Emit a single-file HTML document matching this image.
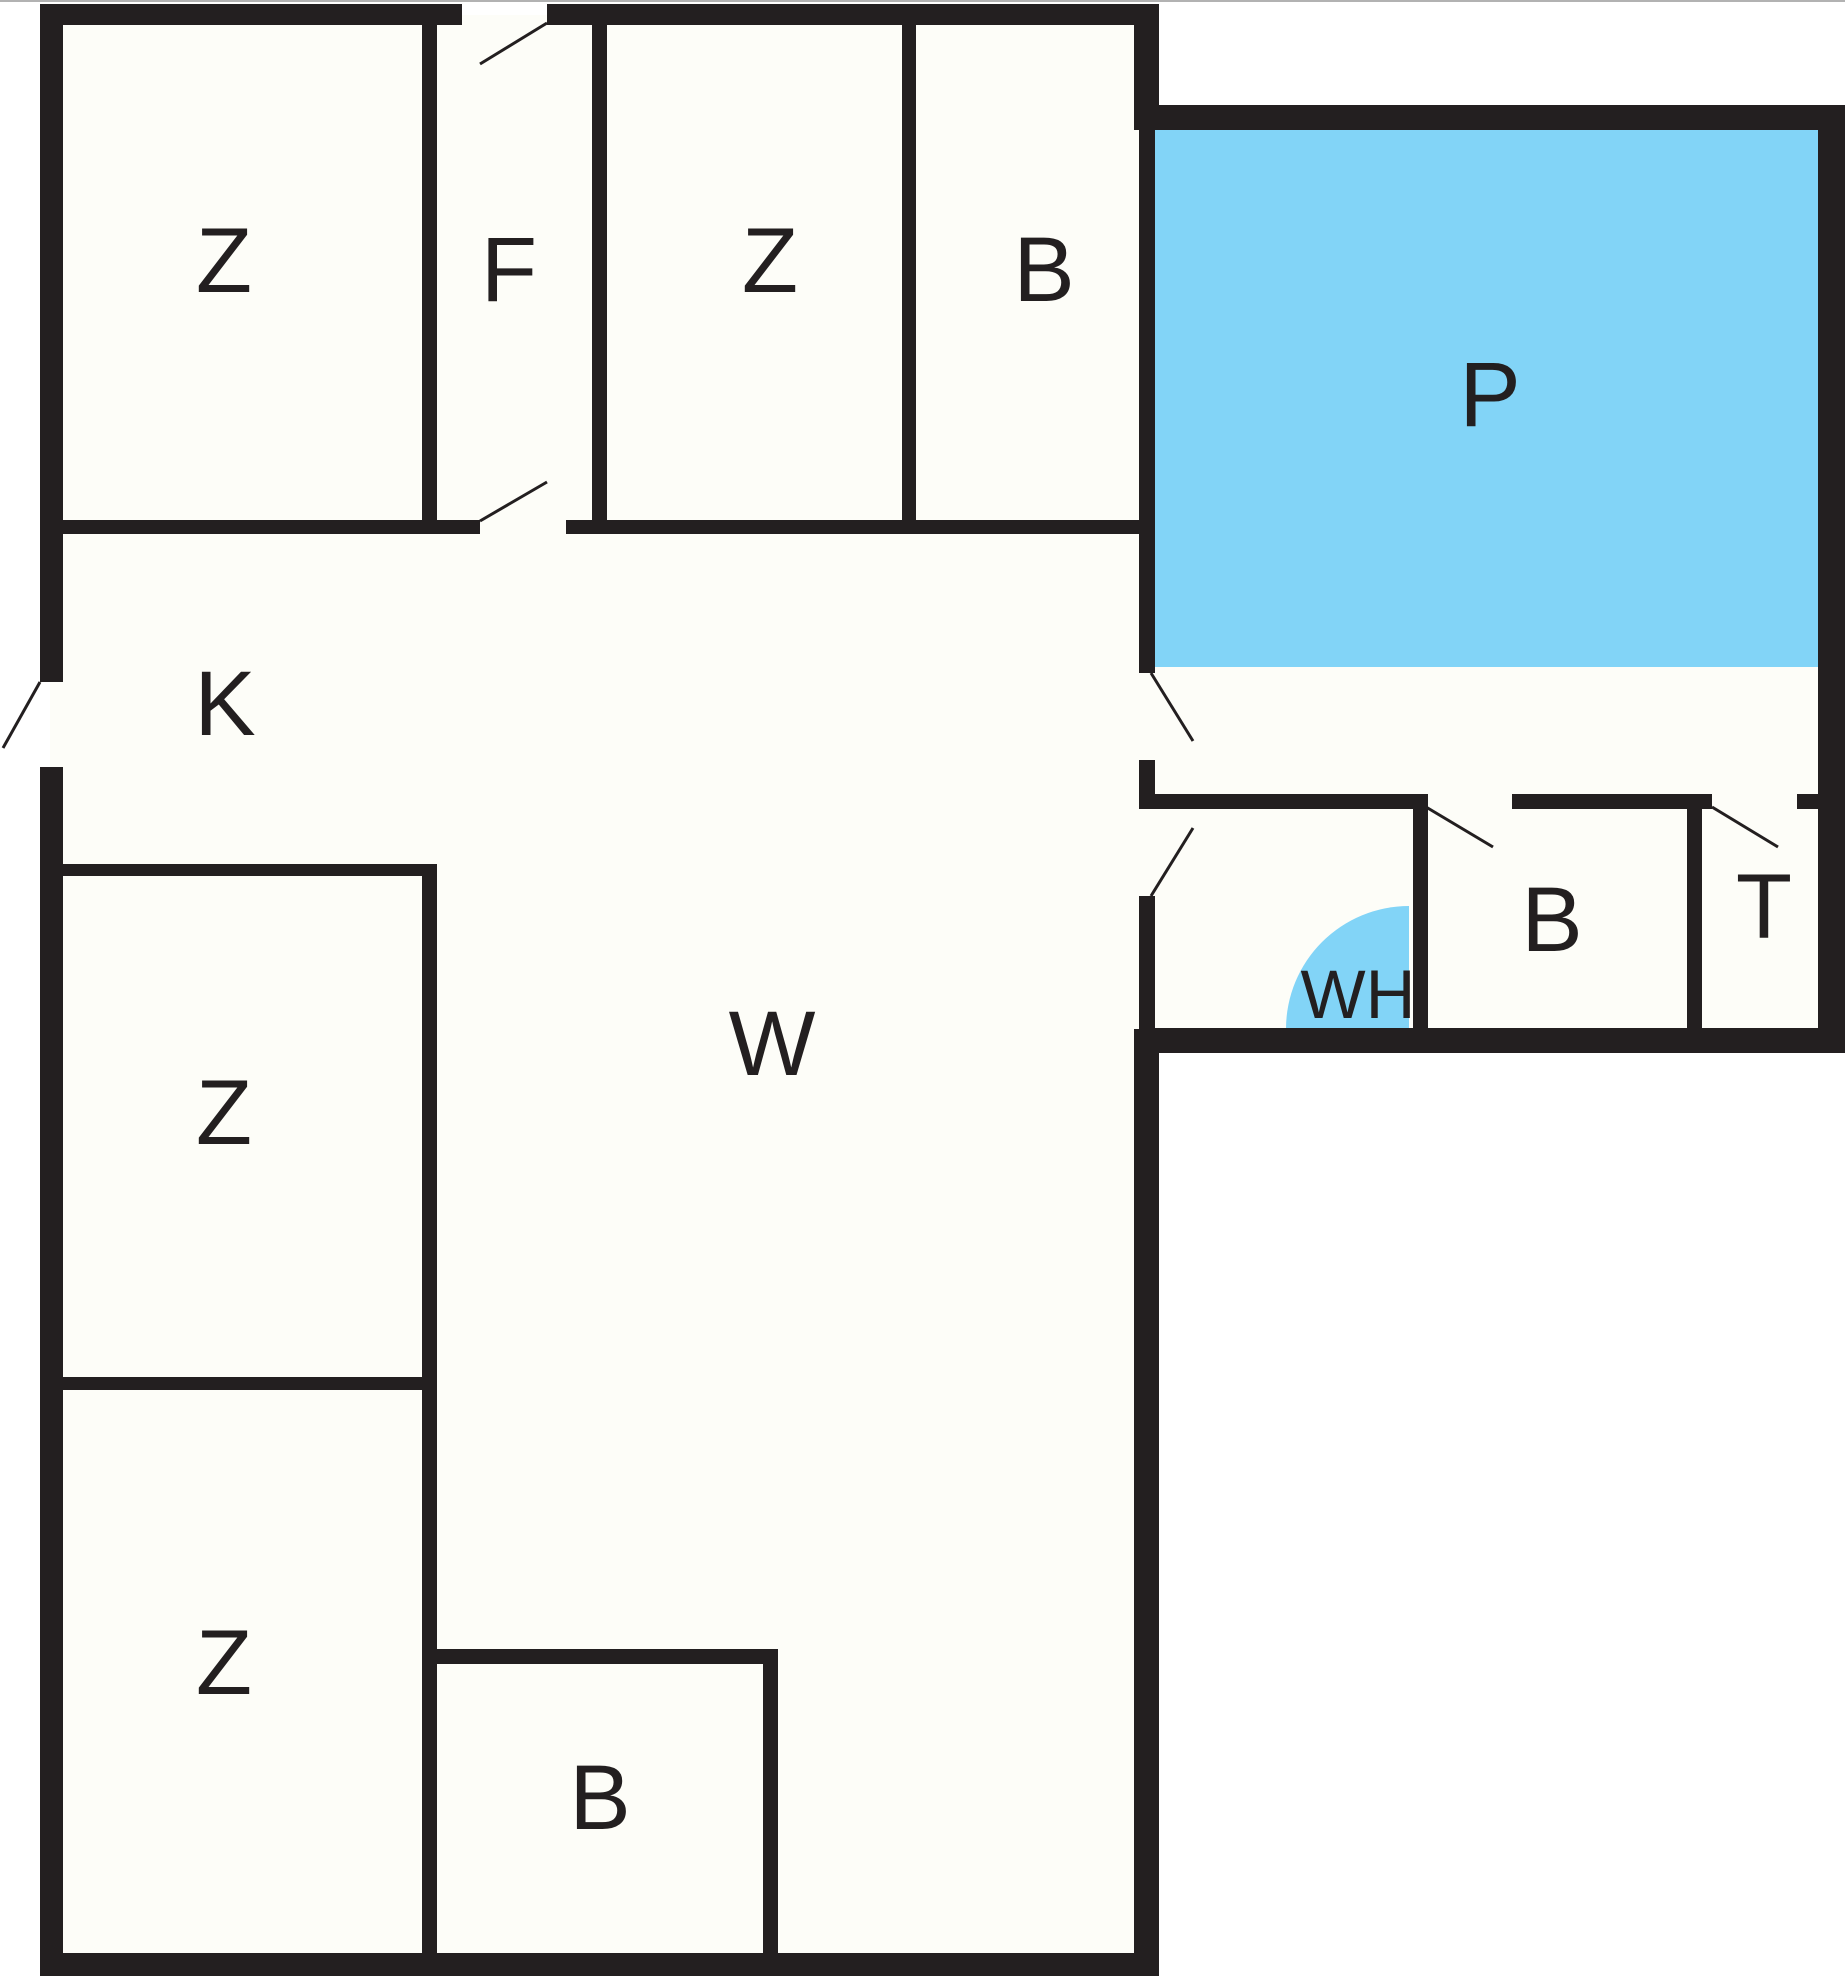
<!DOCTYPE html>
<html><head><meta charset="utf-8"><style>html,body{margin:0;padding:0;background:#fff}svg{display:block}</style></head>
<body>
<svg width="1845" height="1980" viewBox="0 0 1845 1980" xmlns="http://www.w3.org/2000/svg">
<rect width="1845" height="1980" fill="#fff"/>
<line x1="0" y1="1" x2="1845" y2="1" stroke="#999" stroke-width="1.5"/>
<!-- interior fills -->
<rect x="50" y="15" width="1095" height="1950" fill="#fdfdf8"/>
<rect x="1145" y="120" width="685" height="920" fill="#fdfdf8"/>
<rect x="1155" y="130" width="665" height="537" fill="#82d4f7"/>
<path d="M1409 1029 L1409 906 A123 123 0 0 0 1286 1029 Z" fill="#82d4f7"/>
<g fill="#231f20">
<!-- outer main -->
<rect x="40" y="4" width="422" height="21"/>
<rect x="547" y="4" width="612" height="21"/>
<rect x="40" y="4" width="23" height="678"/>
<rect x="40" y="767" width="23" height="1209"/>
<rect x="40" y="1953" width="1119" height="23"/>
<rect x="1134" y="4" width="25" height="126"/>
<rect x="1134" y="1029" width="25" height="947"/>
<!-- annex -->
<rect x="1139" y="105" width="706" height="25"/>
<rect x="1818" y="105" width="27" height="948"/>
<rect x="1139" y="1028" width="706" height="25"/>
<rect x="1139" y="105" width="16" height="568"/>
<rect x="1139" y="760" width="16" height="49"/>
<rect x="1139" y="896" width="16" height="140"/>
<rect x="1139" y="794" width="287" height="15"/>
<rect x="1512" y="794" width="200" height="15"/>
<rect x="1797" y="794" width="25" height="15"/>
<rect x="1413" y="794" width="15" height="240"/>
<rect x="1687" y="794" width="15" height="240"/>
<!-- top row -->
<rect x="422" y="4" width="15" height="530"/>
<rect x="592" y="4" width="15" height="530"/>
<rect x="902" y="4" width="14" height="530"/>
<rect x="40" y="520" width="440" height="14"/>
<rect x="566" y="520" width="580" height="14"/>
<!-- lower left -->
<rect x="40" y="864" width="397" height="12"/>
<rect x="422" y="864" width="15" height="1100"/>
<rect x="40" y="1377" width="397" height="13"/>
<rect x="429" y="1649" width="349" height="15"/>
<rect x="763" y="1649" width="15" height="315"/>
</g>
<g stroke="#231f20" stroke-width="3">
<line x1="480" y1="64" x2="547" y2="23"/>
<line x1="480" y1="521" x2="547" y2="482"/>
<line x1="3" y1="748" x2="40" y2="682"/>
<line x1="1151" y1="673" x2="1193" y2="741"/>
<line x1="1151" y1="896" x2="1193" y2="828"/>
<line x1="1426" y1="807" x2="1493" y2="847"/>
<line x1="1712" y1="807" x2="1778" y2="847"/>
</g>
<g font-family="Liberation Sans, sans-serif" font-size="92" fill="#231f20" text-anchor="middle">
<text x="224" y="292">Z</text>
<text x="509" y="301">F</text>
<text x="770" y="292">Z</text>
<text x="1044" y="301">B</text>
<text x="1490" y="426">P</text>
<text x="225" y="735">K</text>
<text x="772" y="1075">W</text>
<text x="224" y="1144">Z</text>
<text x="224" y="1694">Z</text>
<text x="600" y="1829">B</text>
<text x="1552" y="951">B</text>
<text x="1764" y="938">T</text>
<text x="1358" y="1018" font-size="69">WH</text>
</g>
</svg>
</body></html>
